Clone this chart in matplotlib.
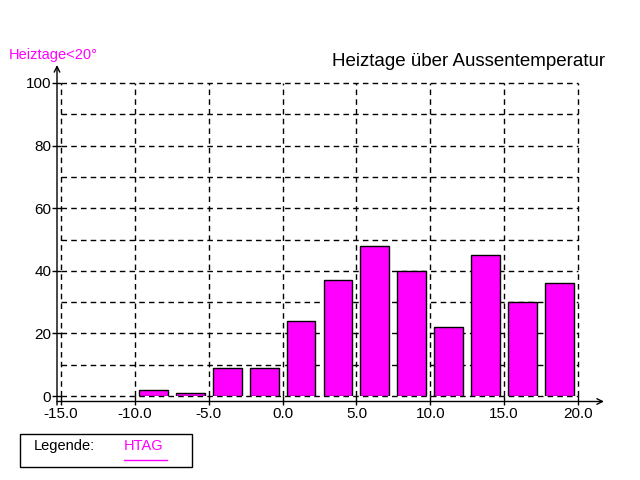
import matplotlib
matplotlib.use("Agg")
import matplotlib.pyplot as plt
from matplotlib.patches import Rectangle
from matplotlib.lines import Line2D

plt.rcParams['font.family'] = ['Liberation Sans', 'DejaVu Sans']

# Data
temp_centers = [-8.75, -6.25, -3.75, -1.25, 1.25, 3.75, 6.25, 8.75, 11.25, 13.75, 16.25, 18.75]
htag = [2, 1, 9, 9, 24, 37, 48, 40, 22, 45, 30, 36]
x_ticks = [-15, -10, -5, 0, 5, 10, 15, 20]
x_tick_labels = ["-15.0", "-10.0", "-5.0", "0.0", "5.0", "10.0", "15.0", "20.0"]
y_ticks = [0, 20, 40, 60, 80, 100]
y_minor = [10, 30, 50, 70, 90]

W, H = 640, 480
fig = plt.figure(figsize=(6.4, 4.8), dpi=100)
fig.patch.set_facecolor('white')

def fx(px):
    return px / W

def fy(py):
    return (H - py) / H

ax = fig.add_axes([fx(61), fy(396), (578 - 61) / W, (396 - 83) / H])
ax.set_xlim(-15, 20)
ax.set_ylim(0, 100)
for s in ax.spines.values():
    s.set_visible(False)

dash = (0, (4, 3))
ax.set_xticks(x_ticks)
ax.set_xticklabels(x_tick_labels)
ax.set_yticks(y_ticks)
ax.set_yticks(y_minor, minor=True)
ax.grid(True, which='major', color='black', linestyle=dash, linewidth=1)
ax.grid(True, which='minor', axis='y', color='black', linestyle=dash, linewidth=1)
for gl in ax.get_xgridlines() + ax.get_ygridlines() + \
        ax.yaxis.get_minorticklines():
    gl.set_clip_on(False)
for t in ax.xaxis.get_major_ticks() + ax.yaxis.get_major_ticks() + \
        ax.yaxis.get_minor_ticks():
    t.gridline.set_clip_on(False)
ax.set_axisbelow(True)
ax.tick_params(axis='both', which='major', direction='out', length=6.5, width=1,
               color='black', labelsize=11)
ax.tick_params(axis='y', which='major', pad=0.5)
ax.tick_params(axis='y', which='minor', length=0)
ax.tick_params(axis='x', which='major', pad=1.5)

ax.bar(temp_centers, htag, width=1.95, color='#FF00FF', edgecolor='black',
       linewidth=1, zorder=3)

# axis lines with arrows (figure pixel positions)
ax.annotate('', xy=(fx(604), fy(401.5)), xytext=(fx(57), fy(401.5)),
            xycoords='figure fraction', textcoords='figure fraction',
            arrowprops=dict(arrowstyle='->', lw=1, color='black',
                            shrinkA=0, shrinkB=0, mutation_scale=10))
ax.annotate('', xy=(fx(57), fy(65)), xytext=(fx(57), fy(405)),
            xycoords='figure fraction', textcoords='figure fraction',
            arrowprops=dict(arrowstyle='->', lw=1, color='black',
                            shrinkA=0, shrinkB=0, mutation_scale=10))

# Titles
fig.text(fx(605), fy(66.5), "Heiztage über Aussentemperatur", ha='right',
         va='baseline', fontsize=13.5, color='black')
fig.text(fx(9), fy(58.5), "Heiztage<20°", ha='left', va='baseline',
         fontsize=10.5, color='#FF00FF')

# Legend box
fig.add_artist(Rectangle((fx(20), fy(467)), (192 - 20) / W, (467 - 434) / H,
                         transform=fig.transFigure, facecolor='white',
                         edgecolor='black', linewidth=1))
fig.text(fx(34), fy(450), "Legende:", ha='left', va='baseline', fontsize=10.5,
         color='black')
fig.text(fx(124), fy(450), "HTAG", ha='left', va='baseline', fontsize=10.5,
         color='#FF00FF')
fig.add_artist(Line2D([fx(124), fx(167)], [fy(460), fy(460)],
                      transform=fig.transFigure, color='#FF00FF', linewidth=1))

fig.savefig("out.png", dpi=100, facecolor='white')
